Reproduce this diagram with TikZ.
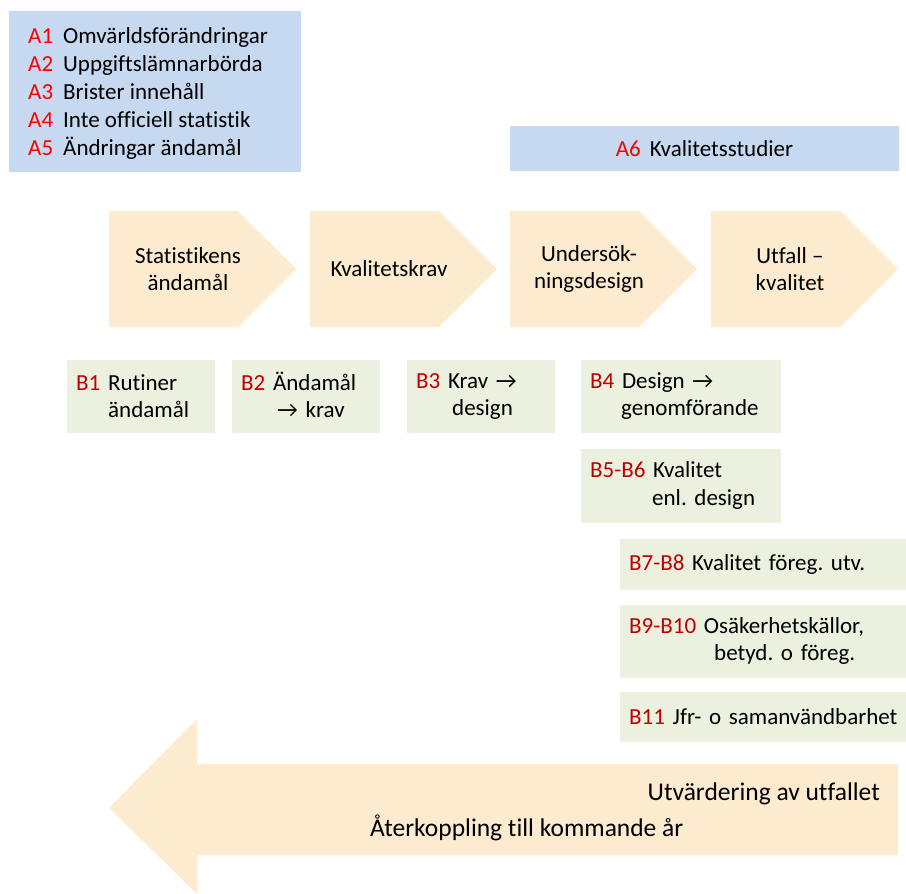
\documentclass[tikz,border=0pt]{standalone}
\usepackage{fontspec}
\setmainfont{Carlito}[Ligatures=NoCommon]
\usetikzlibrary{shapes.symbols}

\definecolor{ablue}{RGB}{198,217,240}
\definecolor{stagefill}{RGB}{253,235,208}
\definecolor{bgreen}{RGB}{235,241,222}
\definecolor{ared}{RGB}{255,0,0}
\definecolor{bred}{RGB}{192,0,0}

\newcommand\blab[2]{\textcolor{bred}{#1} #2}
\frenchspacing

\begin{document}
\begin{tikzpicture}[x=1pt,y=-1pt,font=\fontsize{23}{27.5}\selectfont]
	\tikzstyle{a box}=[fill=ablue, inner sep=0pt, outer sep=0pt]
	\tikzstyle{stage}=[signal, signal to=east, signal pointer angle=90, fill=stagefill, minimum width=187pt, minimum height=116pt, inner sep=0pt]
	\tikzstyle{stage text}=[align=center, inner sep=0pt]
	\tikzstyle{b box}=[fill=bgreen, anchor=north west, inner xsep=9pt, inner ysep=0pt, align=left, text height=15pt]
	\tikzstyle{back text}=[inner sep=0pt, font=\fontsize{25.5}{30}\selectfont]

	\useasboundingbox (0,0) rectangle (906,894);

	% Draw the A boxes
	\node[a box, anchor=north west, minimum width=292pt, minimum height=161pt] (A) at (9,11) {};
	\foreach \i / \txt in {1/Omvärldsförändringar,2/Uppgiftslämnarbörda,3/Brister innehåll,4/Inte officiell statistik,5/Ändringar ändamål}
	\node[anchor=base west, inner sep=0pt] (A-\i) at (28,15+28*\i) {\makebox[35pt][l]{\textcolor{ared}{A\i}}\txt};
	\node[a box, minimum width=389pt, minimum height=45pt] (A6) at (704.5,148.5) {\textcolor{ared}{A6}\hspace{9pt}Kvalitetsstudier};

	% Draw the stages
	\foreach \name / \x / \txt in {1/109/Statistikens\\ändamål,2/310/Kvalitetskrav,3/510/Undersök-\\ningsdesign,4/711/Utfall --\\kvalitet}
	{
	\node[stage] (S-\name) at (\x+64.5,269) {};
	\node[stage text] (T-\name) at (\x+79,269) {\txt};
	}

	% Draw the B boxes
	\node[b box, text width=130pt, minimum height=73pt] (B1) at (67,360) {\blab{B1}{Rutiner}\\\hspace*{32pt}ändamål};
	\node[b box, text width=130pt, minimum height=73pt] (B2) at (232,360) {\blab{B2}{Ändamål}\\\hspace*{36pt}→ krav};
	\node[b box, text width=130pt, minimum height=73pt] (B3) at (407,360) {\blab{B3}{Krav →}\\\hspace*{36pt}design};
	\node[b box, text width=182pt, minimum height=73pt] (B4) at (581,360) {\blab{B4}{Design →}\\\hspace*{31pt}genomförande};
	\node[b box, text width=182pt, minimum height=74pt] (B5) at (581,449) {\blab{B5-B6}{Kvalitet}\\\hspace*{62pt}enl. design};
	\node[b box, text width=268pt, minimum height=51pt] (B7) at (620,539) {\blab{B7-B8}{Kvalitet föreg. utv.}};
	\node[b box, text width=268pt, minimum height=73pt] (B9) at (620,605) {\blab{B9-B10}{Osäkerhetskällor,}\\\hspace*{85pt}betyd. o föreg.};
	\node[b box, text width=268pt, minimum height=50pt] (B11) at (620,692) {\mbox{\blab{B11}{Jfr- o samanvändbarhet}}};

	% Feedback arrow
	\fill[stagefill] (898,764) -- (197,764) -- (197,719) -- (109,808) -- (197,894) -- (197,855) -- (898,855) -- cycle;
	\node[back text, anchor=base east] (eval) at (880,800) {Utvärdering av utfallet};
	\node[back text, anchor=base west] (feedback) at (370,836) {Återkoppling till kommande år};
\end{tikzpicture}
\end{document}
